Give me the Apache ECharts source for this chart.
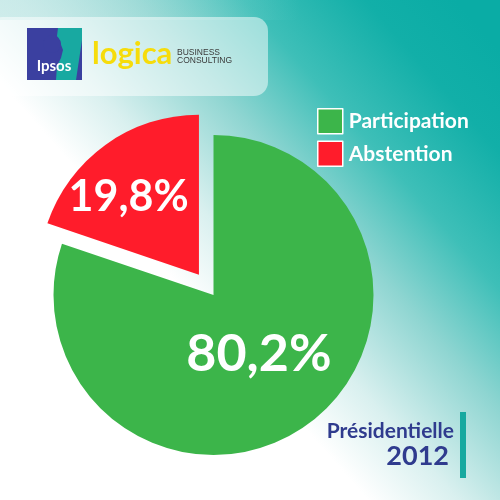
<!DOCTYPE html>
<html>
<head>
<meta charset="utf-8">
<script src="https://cdn.jsdelivr.net/npm/echarts@6/dist/echarts.min.js"></script>
<style>html,body{margin:0;padding:0;background:#fff}#c{width:500px;height:500px}</style>
</head>
<body>
<div id="c"></div>
<script>
var categories = ['Participation', 'Abstention'];
var values = [80.2, 19.8];
var colors = ['#3cb54a', '#ff1c2b'];
var titleLine1 = 'Présidentielle';
var titleLine2 = '2012';

var chart = echarts.init(document.getElementById('c'), null, {renderer: 'canvas'});
var FONT = 'Lato, "Open Sans", "DejaVu Sans", sans-serif';

var pieData = categories.map(function (n, i) {
  return {name: n, value: values[i], selected: i === 1, itemStyle: {color: colors[i]}};
});

var option = {
  animation: false,
  graphic: [
    {type: 'rect', z: -10, shape: {x: 0, y: 0, width: 500, height: 500}, style: {
      fill: new echarts.graphic.LinearGradient(0.15, 0.85, 1, 0.1, [
        {offset: 0, color: '#ffffff'},
        {offset: 0.3, color: '#ffffff'},
        {offset: 0.42, color: '#d9f0ef'},
        {offset: 0.58, color: '#8ed5d1'},
        {offset: 0.72, color: '#3ebfb8'},
        {offset: 0.88, color: '#12afa8'},
        {offset: 1, color: '#0aaca5'}
      ])
    }},
    {type: 'rect', z: -9.5, shape: {x: 0, y: 0, width: 300, height: 20}, style: {
      fill: new echarts.graphic.LinearGradient(0, 0, 1, 0, [
        {offset: 0, color: 'rgba(190,230,228,0.6)'},
        {offset: 1, color: 'rgba(190,230,228,0)'}
      ])
    }},
    {type: 'rect', z: -9, shape: {x: -12, y: 17, width: 280, height: 79, r: 14}, style: {fill: 'rgba(255,255,255,0.5)'}},
    // Ipsos logo
    {type: 'rect', z: -8, shape: {x: 27, y: 28, width: 55, height: 52}, style: {fill: '#3b40a0'}},
    {type: 'polygon', z: -7, shape: {points: [[58, 28], [82, 28], [82, 40], [79, 60], [76, 80], [56, 80], [57, 66], [61, 58], [63, 50], [60, 42], [57, 36]]}, style: {fill: '#18a9a1'}},
    {type: 'circle', z: -7, shape: {cx: 52, cy: 44, r: 9}, style: {fill: '#3b40a0'}},
    {type: 'text', z: -6, style: {x: 54, y: 66, text: 'Ipsos', fill: '#ffffff', font: 'bold 15px ' + FONT, textAlign: 'center', textVerticalAlign: 'middle'}},
    // logica logo
    {type: 'text', z: -6, style: {x: 92, y: 54, text: 'logica', fill: '#f6dc0b', font: 'bold 31px Lato, sans-serif', textAlign: 'left', textVerticalAlign: 'middle'}},
    {type: 'text', z: -6, style: {x: 177, y: 53, text: 'BUSINESS', fill: '#3a3a3a', font: '8.5px "Liberation Sans", sans-serif', textAlign: 'left', textVerticalAlign: 'middle'}},
    {type: 'text', z: -6, style: {x: 177, y: 61, text: 'CONSULTING', fill: '#3a3a3a', font: '8.5px "Liberation Sans", sans-serif', textAlign: 'left', textVerticalAlign: 'middle'}},
    // Title bottom right
    {type: 'text', z: 5, style: {x: 454, y: 431, text: titleLine1, fill: '#2f3b8e', font: 'bold 21px ' + FONT, textAlign: 'right', textVerticalAlign: 'middle'}},
    {type: 'text', z: 5, style: {x: 449, y: 456, text: titleLine2, fill: '#2f3b8e', font: 'bold 27px ' + FONT, textAlign: 'right', textVerticalAlign: 'middle'}},
    {type: 'rect', z: 5, shape: {x: 460, y: 412, width: 6, height: 66}, style: {fill: '#17a9a0'}}
  ],
  legend: {
    orient: 'vertical',
    left: 312,
    top: 103,
    itemWidth: 25,
    itemHeight: 25,
    itemGap: 6,
    icon: 'rect',
    selectedMode: false,
    itemStyle: {borderColor: '#ffffff', borderWidth: 1.5},
    textStyle: {color: '#ffffff', fontSize: 21, fontWeight: 'bold', fontFamily: FONT, padding: [0, 0, 0, 1]},
    data: categories
  },
  series: [{
    type: 'pie',
    center: [213.5, 295],
    radius: 160,
    startAngle: 90,
    clockwise: true,
    selectedMode: 'single',
    selectedOffset: 25,
    emphasis: {disabled: true},
    label: {
      show: true,
      position: 'inside',
      color: '#ffffff',
      fontFamily: FONT,
      fontWeight: 'bold',
      formatter: function (p) { return String(p.value).replace('.', ',') + '%'; }
    },
    labelLine: {show: false},
    labelLayout: function (p) {
      return p.dataIndex === 1 ? {dx: -22, dy: -10} : {dx: -3, dy: -8};
    },
    data: pieData.map(function (d, i) {
      d.label = {fontSize: i === 0 ? 52 : 43};
      return d;
    })
  }]
};
chart.setOption(option);
</script>
</body>
</html>
